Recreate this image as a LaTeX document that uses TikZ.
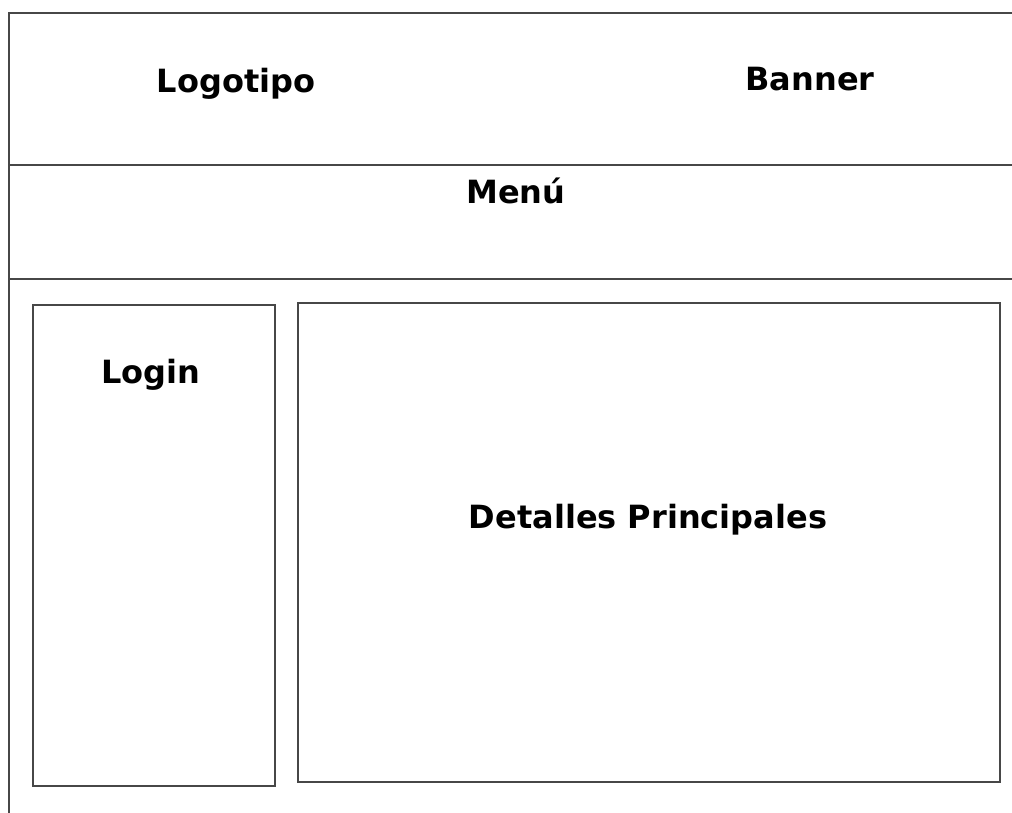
\documentclass[tikz,border=0pt]{standalone}
\usepackage{fontspec}
\setmainfont{DejaVu Sans}
\begin{document}
\begin{tikzpicture}[x=1pt,y=-1pt,
  frame/.style={draw=black!72,line width=1.7pt},
  label/.style={font=\fontsize{32}{36}\selectfont\bfseries,anchor=base,inner sep=0pt,text=black}]
\useasboundingbox (0,0) rectangle (1012,812);
\begin{scope}
\clip (0,0) rectangle (1012,812);
% outer frame
\draw[frame] (1030,13) -- (9,13) -- (9,830);
\draw[frame] (9,165) -- (1030,165);
\draw[frame] (9,279) -- (1030,279);
% inner boxes
\draw[frame] (33,305) rectangle (275,786);
\draw[frame] (298,303) rectangle (1000,782);
\end{scope}
\node[label] (logo) at (236,92) {Logotipo};
\node[label] (banner) at (810,90) {Banner};
\node[label] (menu) at (516,203) {Menú};
\node[label] (login) at (151,383) {Login};
\node[label] (det) at (648,528) {Detalles Principales};
\end{tikzpicture}
\end{document}
